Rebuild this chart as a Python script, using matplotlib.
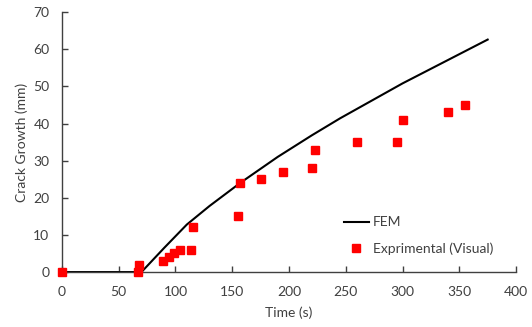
import matplotlib
matplotlib.use("Agg")
import matplotlib.pyplot as plt

plt.rcParams['font.family'] = ['Lato', 'DejaVu Sans']

fem_time = [0, 70, 90, 110, 130, 157, 190, 220, 245, 300, 375]
fem_crack = [0, 0, 6.5, 12.8, 17.8, 24.0, 31.0, 36.8, 41.4, 50.8, 62.6]

exp_time = [0, 67, 68, 89, 94, 99, 104, 114, 115, 155, 157, 175, 195, 220, 223, 260, 295, 300, 340, 355]
exp_crack = [0, 0, 2, 3, 4, 5, 6, 6, 12, 15, 24, 25, 27, 28, 33, 35, 35, 41, 43, 45]

xticks = [0, 50, 100, 150, 200, 250, 300, 350, 400]
yticks = [0, 10, 20, 30, 40, 50, 60, 70]

fig = plt.figure(figsize=(5.32, 3.27), dpi=100)
ax = fig.add_axes([0.1165, 0.168, 0.8535, 0.795])

ax.plot(fem_time, fem_crack, color='black', lw=1.5, label='FEM', zorder=2)
ax.plot(exp_time, exp_crack, ls='none', marker='s', ms=5.2, color='#FF0000',
        label='Exprimental (Visual)', zorder=3, clip_on=False)

ax.set_xlim(0, 400)
ax.set_ylim(0, 70)
ax.set_xticks(xticks)
ax.set_yticks(yticks)
for s in ['top', 'right']:
    ax.spines[s].set_visible(False)
for s in ['left', 'bottom']:
    ax.spines[s].set_color('#404040')
    ax.spines[s].set_linewidth(1.0)
ax.tick_params(direction='in', length=4, width=1.0, color='#404040',
               labelsize=10, labelcolor='#404040')
ax.tick_params(axis='x', pad=10)
ax.tick_params(axis='y', pad=9)
ax.set_xlabel('Time (s)', fontsize=10, color='#404040', labelpad=6)
ax.set_ylabel('Crack Growth (mm)', fontsize=10, color='#404040', labelpad=4)

ax.legend(loc='upper left', bbox_to_anchor=(0.593, 0.262), frameon=False,
          fontsize=10, handlelength=1.8, handletextpad=0.3, labelspacing=1.0,
          labelcolor='#404040')

fig.savefig('out.png', dpi=100)
